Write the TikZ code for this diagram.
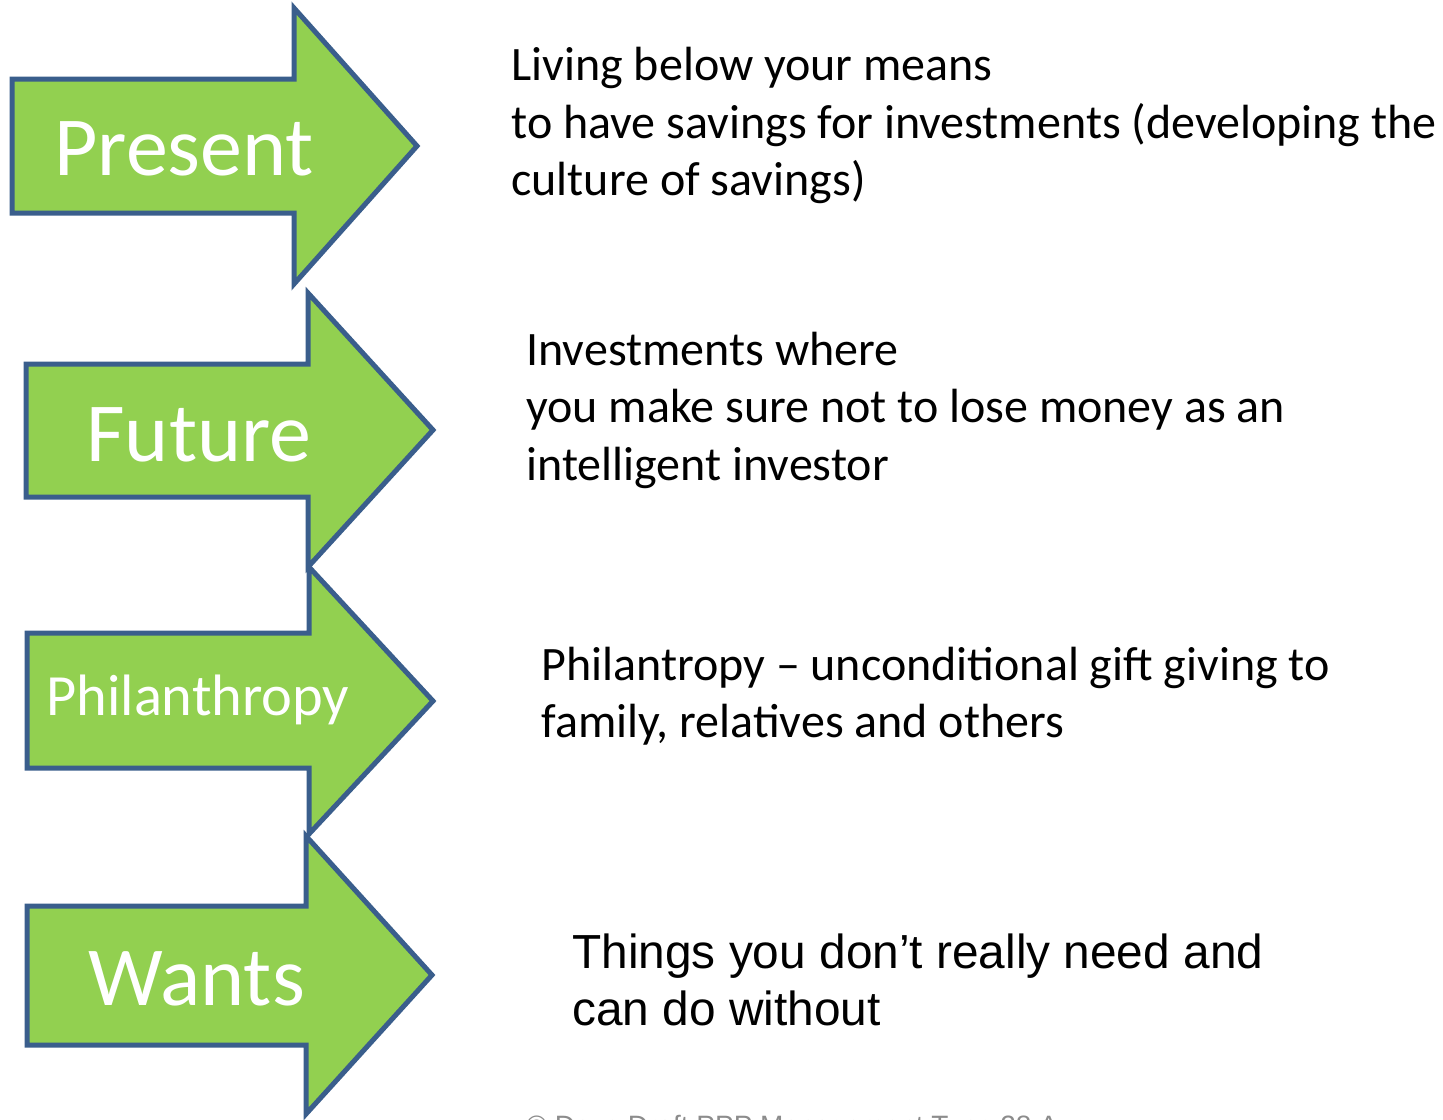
\documentclass[tikz,border=0pt]{standalone}
\usepackage{fontspec}
\setmainfont{Carlito}
\newfontfamily\arialf{Liberation Sans}
\definecolor{arrowfill}{HTML}{92D050}
\definecolor{arrowline}{HTML}{3A5E8C}
\definecolor{footgray}{HTML}{8C8C8C}
\begin{document}
\begin{tikzpicture}[x=0.5pt,y=-0.5pt,
  bigarrow/.style={fill=arrowfill,draw=arrowline,line width=2.5pt,line join=miter,miter limit=10},
  lbl/.style={text=white,anchor=base west,inner sep=0pt,font=\fontsize{42}{50}\selectfont},
  smalllbl/.style={lbl,font=\fontsize{29.2}{35}\selectfont},
  desc/.style={anchor=base west,inner sep=0pt,font=\fontsize{24}{28.5}\selectfont},
  descarial/.style={anchor=base west,inner sep=0pt,font=\arialf\fontsize{23.9}{28.5}\selectfont},
  foot/.style={anchor=base west,inner sep=0pt,text=footgray,font=\arialf\fontsize{14}{17}\selectfont},
]
\useasboundingbox (0,0) rectangle (1443,1119);
\clip (0,0) rectangle (1443,1119);

% arrows
\draw[bigarrow] (12,79) -- (294,79) -- (294,8) -- (417,146) -- (294,284) -- (294,213) -- (12,213) -- cycle;
\draw[bigarrow] (26,364) -- (308,364) -- (308,293) -- (433,430) -- (308,567) -- (308,497) -- (26,497) -- cycle;
\draw[bigarrow] (27,633) -- (309,633) -- (309,567) -- (433,701) -- (309,834) -- (309,768) -- (27,768) -- cycle;
\draw[bigarrow] (27,906) -- (306,906) -- (306,836) -- (432,975) -- (306,1114) -- (306,1045) -- (27,1045) -- cycle;

% labels
\node[lbl] (present) at (54,175) {Present};
\node[lbl] (future) at (86,461) {Future};
\node[smalllbl] (philan) at (46,715) {Philanthropy};
\node[lbl] (wants) at (88,1005) {Wants};

% descriptions
\node[desc] (d1a) at (511,80) {Living below your means};
\node[desc] (d1b) at (511,138) {to have savings for investments (developing the};
\node[desc] (d1c) at (511,195) {culture of savings)};

\node[desc] (d2a) at (526,365) {Investments where};
\node[desc] (d2b) at (526,422) {you make sure not to lose money as an};
\node[desc] (d2c) at (526,480) {intelligent investor};

\node[desc] (d3a) at (541,680) {Philantropy -- unconditional gift giving to};
\node[desc] (d3b) at (541,737) {family, relatives and others};

\node[descarial] (d4a) at (572,968) {Things you don’t really need and};
\node[descarial] (d4b) at (572,1025) {can do without};

% footer (cut off at the bottom edge, as in the reference)
\node[foot] (footer) at (526,1135) {© Dave Draft PPP Management Tues 28 Aug};
\end{tikzpicture}
\end{document}
